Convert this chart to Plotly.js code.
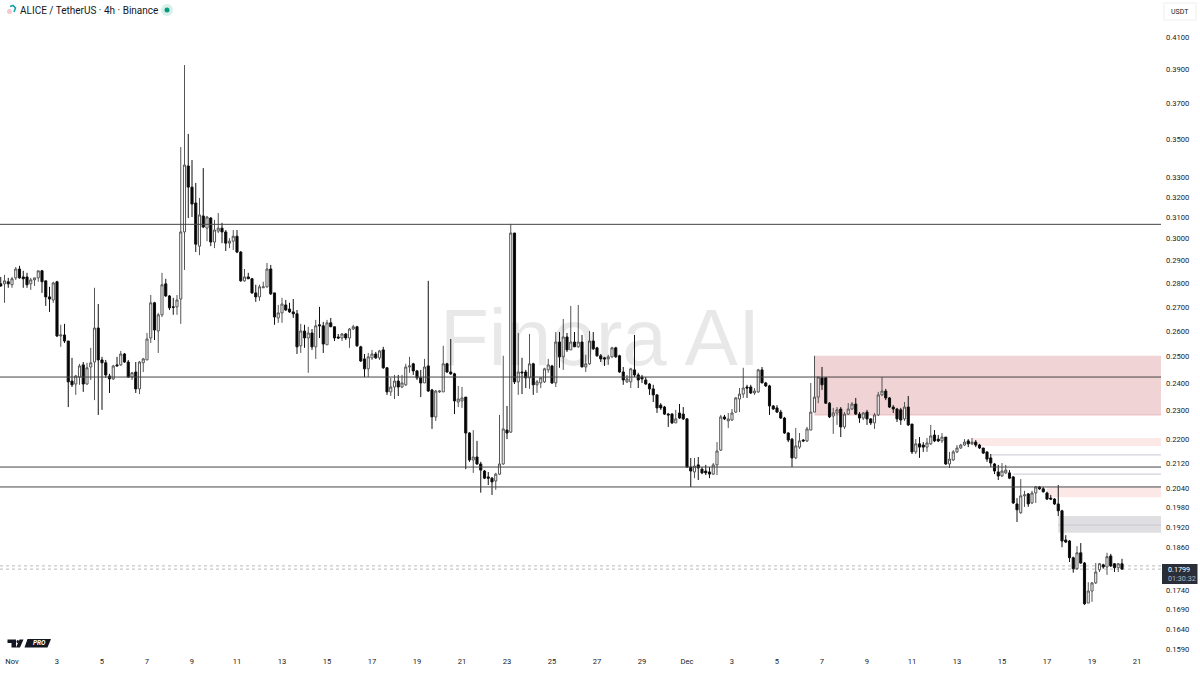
<!DOCTYPE html>
<html><head><meta charset="utf-8">
<script src="https://cdn.plot.ly/plotly-3.0.1.min.js"></script>
<style>html,body{margin:0;padding:0;background:#fff}#c{width:1200px;height:675px}</style>
</head><body><div id="c"></div>
<script>
const opens=[
.2798,.2798,.2807,.2794,.2824,.2863,.2828,.2828,.2798,.2815,
.2824,.2855,.2811,.2742,.2729,.2807,.2581,.2585,.2561,.2407,
.2396,.2422,.2468,.2396,.2460,.2479,.2613,.2487,.2476,.2426,
.2415,.2468,.2468,.2510,.2479,.2422,.2441,.2378,.2476,.2487,
.2573,.2717,.2601,.2667,.2798,.2746,.2700,.2700,.2733,.3032,
.3358,.3250,.3171,.2966,.3108,.3050,.3098,.2985,.3036,.3050,
.3032,.2980,.2989,.3012,.2939,.2811,.2828,.2820,.2759,.2742,
.2781,.2785,.2863,.2759,.2654,.2675,.2708,.2691,.2679,.2671,
.2542,.2601,.2573,.2593,.2538,.2626,.2622,.2546,.2634,.2618,
.2577,.2573,.2589,.2573,.2609,.2618,.2538,.2491,.2453,.2495,
.2510,.2495,.2526,.2457,.2367,.2385,.2407,.2385,.2393,.2460,
.2472,.2445,.2419,.2400,.2464,.2374,.2277,.2367,.2367,.2472,
.2441,.2434,.2330,.2334,.2348,.2221,.2130,.2140,.2117,.2094,
.2075,.2071,.2062,.2084,.2117,.2231,.2224,.3027,.2404,.2441,
.2441,.2419,.2472,.2393,.2400,.2404,.2449,.2464,.2400,.2557,
.2499,.2577,.2526,.2557,.2538,.2557,.2460,.2472,.2561,.2534,
.2503,.2495,.2491,.2499,.2534,.2503,.2441,.2404,.2404,.2449,
.2430,.2422,.2411,.2396,.2378,.2356,.2319,.2312,.2287,.2287,
.2256,.2291,.2287,.2270,.2107,.2091,.2114,.2100,.2094,.2091,
.2084,.2114,.2163,.2277,.2263,.2266,.2294,.2341,.2359,.2385,
.2385,.2363,.2367,.2449,.2400,.2389,.2316,.2309,.2294,.2273,
.2221,.2200,.2137,.2173,.2197,.2194,.2231,.2294,.2348,.2419,
.2419,.2326,.2280,.2291,.2305,.2242,.2287,.2305,.2323,.2287,
.2273,.2294,.2270,.2256,.2284,.2356,.2370,.2345,.2312,.2305,
.2302,.2270,.2312,.2252,.2157,.2184,.2180,.2173,.2184,.2214,
.2200,.2194,.2207,.2117,.2130,.2157,.2170,.2180,.2194,.2184,
.2190,.2180,.2170,.2157,.2137,.2117,.2091,.2078,.2088,.2088,
.2075,.1990,.1963,.2015,.2021,.1993,.2024,.2043,.2037,.2024,
.2008,.2005,.1990,.1969,.1882,.1879,.1831,.1800,.1845,.1816,
.1707,.1739,.1761,.1797,.1811,.1805,.1836,.1814,.1803,.1814];
const highs=[
.2828,.2837,.2824,.2828,.2872,.2877,.2855,.2846,.2824,.2824,
.2855,.2859,.2811,.2785,.2807,.2811,.2626,.2630,.2561,.2495,
.2430,.2472,.2479,.2476,.2534,.2781,.2712,.2499,.2487,.2434,
.2468,.2499,.2522,.2514,.2487,.2441,.2479,.2483,.2495,.2593,
.2750,.2721,.2675,.2846,.2820,.2750,.2738,.2750,.3458,.3926,
.3529,.3389,.3271,.3196,.3347,.3108,.3103,.3089,.3122,.3075,
.3041,.3003,.3041,.3041,.2944,.2863,.2846,.2824,.2794,.2794,
.2807,.2890,.2881,.2759,.2708,.2738,.2729,.2717,.2733,.2687,
.2630,.2626,.2618,.2609,.2646,.2700,.2638,.2646,.2654,.2618,
.2589,.2593,.2593,.2613,.2626,.2622,.2542,.2510,.2514,.2526,
.2518,.2526,.2538,.2460,.2419,.2430,.2430,.2430,.2472,.2499,
.2476,.2449,.2449,.2491,.2811,.2378,.2374,.2374,.2542,.2476,
.2569,.2438,.2389,.2385,.2348,.2224,.2231,.2194,.2124,.2097,
.2091,.2075,.2088,.2284,.2503,.2316,.3070,.3027,.2593,.2495,
.2449,.2589,.2476,.2411,.2419,.2457,.2491,.2468,.2597,.2597,
.2650,.2593,.2704,.2597,.2708,.2585,.2507,.2601,.2597,.2538,
.2510,.2499,.2507,.2538,.2538,.2507,.2460,.2430,.2457,.2585,
.2438,.2430,.2422,.2400,.2393,.2359,.2326,.2316,.2291,.2291,
.2302,.2323,.2312,.2273,.2137,.2137,.2140,.2107,.2114,.2107,
.2120,.2190,.2284,.2284,.2291,.2305,.2348,.2381,.2457,.2393,
.2393,.2381,.2453,.2460,.2404,.2393,.2319,.2319,.2302,.2277,
.2224,.2204,.2238,.2221,.2200,.2242,.2400,.2503,.2422,.2460,
.2422,.2330,.2309,.2312,.2312,.2294,.2326,.2330,.2345,.2294,
.2294,.2302,.2273,.2291,.2367,.2422,.2378,.2348,.2319,.2309,
.2309,.2330,.2352,.2252,.2200,.2207,.2190,.2204,.2249,.2231,
.2214,.2221,.2207,.2157,.2163,.2180,.2184,.2200,.2200,.2204,
.2197,.2184,.2170,.2157,.2150,.2120,.2114,.2120,.2114,.2097,
.2078,.2008,.2068,.2031,.2024,.2031,.2046,.2046,.2043,.2028,
.2018,.2008,.2049,.1972,.1896,.1882,.1834,.1864,.1873,.1819,
.1763,.1763,.1816,.1816,.1814,.1845,.1842,.1816,.1816,.1828];
const lows=[
.2785,.2717,.2781,.2781,.2815,.2820,.2781,.2781,.2772,.2789,
.2807,.2759,.2704,.2679,.2717,.2577,.2538,.2553,.2312,.2385,
.2356,.2393,.2367,.2393,.2411,.2337,.2284,.2302,.2419,.2363,
.2411,.2464,.2464,.2476,.2419,.2411,.2363,.2359,.2441,.2487,
.2553,.2565,.2514,.2658,.2742,.2687,.2667,.2667,.2630,.2859,
.3098,.3103,.2939,.2925,.3050,.2989,.2966,.2957,.3027,.2980,
.2944,.2957,.2948,.2934,.2807,.2807,.2820,.2755,.2721,.2725,
.2781,.2781,.2750,.2626,.2634,.2634,.2683,.2675,.2654,.2510,
.2514,.2534,.2438,.2526,.2491,.2573,.2514,.2546,.2618,.2561,
.2569,.2561,.2565,.2534,.2605,.2538,.2479,.2422,.2422,.2487,
.2491,.2487,.2453,.2356,.2352,.2341,.2352,.2381,.2389,.2438,
.2430,.2411,.2348,.2400,.2367,.2235,.2263,.2363,.2367,.2438,
.2430,.2287,.2312,.2309,.2100,.2124,.2088,.2114,.2025,.2068,
.2049,.2018,.2034,.2081,.2114,.2200,.2221,.2396,.2356,.2359,
.2381,.2378,.2356,.2363,.2381,.2400,.2438,.2396,.2385,.2457,
.2449,.2518,.2526,.2538,.2534,.2460,.2441,.2468,.2526,.2499,
.2479,.2464,.2468,.2495,.2495,.2438,.2393,.2400,.2381,.2422,
.2381,.2400,.2393,.2356,.2330,.2291,.2302,.2284,.2242,.2252,
.2256,.2270,.2266,.2104,.2043,.2071,.2065,.2084,.2081,.2071,
.2081,.2081,.2160,.2266,.2238,.2263,.2291,.2294,.2345,.2345,
.2359,.2356,.2363,.2400,.2385,.2284,.2302,.2291,.2270,.2218,
.2190,.2107,.2133,.2167,.2190,.2190,.2231,.2294,.2326,.2374,
.2323,.2273,.2218,.2249,.2207,.2235,.2284,.2302,.2284,.2256,
.2266,.2249,.2249,.2235,.2280,.2352,.2337,.2309,.2291,.2259,
.2249,.2263,.2245,.2150,.2150,.2137,.2157,.2157,.2180,.2190,
.2190,.2187,.2114,.2104,.2127,.2153,.2167,.2177,.2173,.2180,
.2173,.2167,.2150,.2124,.2107,.2084,.2065,.2075,.2084,.2068,
.1990,.1935,.1960,.1981,.1981,.1990,.1993,.2034,.2025,.2002,
.2002,.1987,.1953,.1861,.1873,.1819,.1789,.1797,.1814,.1702,
.1707,.1710,.1758,.1791,.1800,.1783,.1805,.1791,.1791,.1797];
const closes=[
.2789,.2811,.2798,.2820,.2863,.2824,.2820,.2794,.2815,.2824,
.2855,.2807,.2742,.2733,.2802,.2581,.2585,.2561,.2404,.2393,
.2426,.2464,.2396,.2457,.2476,.2613,.2487,.2476,.2430,.2415,
.2464,.2464,.2510,.2479,.2422,.2438,.2378,.2479,.2491,.2569,
.2717,.2605,.2667,.2794,.2746,.2696,.2698,.2729,.3032,.3363,
.3250,.3166,.2975,.3113,.3055,.3103,.2985,.3041,.3050,.3032,
.2980,.2989,.3012,.2939,.2811,.2828,.2820,.2759,.2742,.2785,
.2785,.2863,.2755,.2658,.2675,.2712,.2687,.2679,.2671,.2538,
.2601,.2573,.2593,.2538,.2622,.2622,.2549,.2634,.2618,.2573,
.2573,.2589,.2573,.2609,.2618,.2542,.2483,.2453,.2499,.2510,
.2495,.2522,.2457,.2367,.2385,.2407,.2385,.2400,.2460,.2464,
.2445,.2419,.2400,.2460,.2370,.2277,.2370,.2370,.2472,.2441,
.2434,.2334,.2341,.2345,.2221,.2130,.2140,.2117,.2097,.2071,
.2071,.2059,.2084,.2117,.2235,.2221,.3027,.2404,.2441,.2438,
.2419,.2472,.2393,.2404,.2419,.2453,.2468,.2400,.2557,.2499,
.2577,.2526,.2557,.2538,.2557,.2460,.2472,.2561,.2530,.2503,
.2491,.2491,.2499,.2534,.2499,.2441,.2411,.2415,.2453,.2430,
.2411,.2415,.2396,.2378,.2356,.2309,.2309,.2287,.2284,.2256,
.2270,.2273,.2270,.2107,.2094,.2110,.2104,.2088,.2088,.2084,
.2114,.2160,.2277,.2270,.2270,.2291,.2345,.2359,.2381,.2381,
.2363,.2370,.2449,.2400,.2389,.2316,.2305,.2294,.2273,.2221,
.2197,.2137,.2177,.2194,.2194,.2235,.2294,.2348,.2422,.2393,
.2326,.2277,.2291,.2302,.2242,.2287,.2305,.2323,.2287,.2273,
.2291,.2270,.2256,.2284,.2356,.2370,.2345,.2312,.2305,.2270,
.2266,.2312,.2249,.2157,.2184,.2173,.2173,.2187,.2211,.2194,
.2194,.2207,.2117,.2133,.2157,.2170,.2180,.2190,.2184,.2190,
.2180,.2170,.2153,.2133,.2120,.2094,.2078,.2094,.2097,.2071,
.1993,.1972,.2015,.2018,.1990,.2024,.2043,.2037,.2028,.2005,
.2005,.1990,.1969,.1879,.1876,.1831,.1800,.1845,.1816,.1705,
.1739,.1761,.1791,.1814,.1805,.1834,.1808,.1803,.1814,.1799];

const dayTicks=["2024-11-01","2024-11-03","2024-11-05","2024-11-07","2024-11-09","2024-11-11","2024-11-13","2024-11-15","2024-11-17","2024-11-19","2024-11-21","2024-11-23","2024-11-25","2024-11-27","2024-11-29","2024-12-01","2024-12-03","2024-12-05","2024-12-07","2024-12-09","2024-12-11","2024-12-13","2024-12-15","2024-12-17","2024-12-19","2024-12-21"];
const dayLabels=["Nov","3","5","7","9","11","13","15","17","19","21","23","25","27","29","Dec","3","5","7","9","11","13","15","17","19","21"];
const priceTicks=[.41,.39,.37,.35,.33,.32,.31,.30,.29,.28,.27,.26,.25,.24,.23,.22,.212,.204,.198,.192,.186,.174,.169,.164,.159];
const levels=[.3068,.2422,.2107,.2043];
const zoneStarts=["2024-12-06 16:00","2024-12-13 16:00","2024-12-17 00:00","2024-12-17 12:00"];
const zoneTops=[.2503,.2204,.2043,.1953];
const zoneBottoms=[.2284,.2177,.2011,.1903];
const thinStarts=["2024-12-14 12:00","2024-12-15 12:00","2024-12-17 12:00"];
const thinLevels=[.2147,.2084,.1926];
const lastPrices=[.1808,.1799];

const W=1200,H=675,ML=0,MR=39,MT=0,MB=20,PW=W-ML-MR,PH=H-MT-MB;
const start=Date.UTC(2024,9,31,12);
const times=opens.map((_,k)=>new Date(start+k*4*3600e3).toISOString().slice(0,16).replace('T',' '));
const xEnd="2024-12-22 01:36";
const px=x=>(x-ML)/PW, py=y=>1-(y-MT)/PH;
const pth=pts=>pts.map((p,i)=>(i?'L':'M')+px(p[0]).toFixed(5)+','+py(p[1]).toFixed(5)).join(' ')+' Z';
const shapes=[];
zoneStarts.forEach((s,i)=>{
  const gray=i===3, big=i===0;
  shapes.push({type:'rect',layer:'below',xref:'x',yref:'y',x0:s,x1:xEnd,y0:zoneBottoms[i],y1:zoneTops[i],
    fillcolor:gray?'#dfdfe1':(big?'#f0d3d5':'#fde8e8'),line:{width:0}});
});
shapes.push({type:'line',layer:'below',xref:'x',yref:'y',x0:zoneStarts[0],x1:xEnd,y0:zoneBottoms[0],y1:zoneBottoms[0],line:{color:'#eab9bd',width:1}});
thinStarts.forEach((s,i)=>shapes.push({type:'line',layer:'below',xref:'x',yref:'y',x0:s,x1:xEnd,y0:thinLevels[i],y1:thinLevels[i],line:{color:'#c9c5d2',width:1}}));
levels.forEach(v=>shapes.push({type:'line',layer:'above',xref:'paper',yref:'y',x0:0,x1:1,y0:v,y1:v,line:{color:'#444',width:1}}));
lastPrices.forEach(v=>shapes.push({type:'line',layer:'below',xref:'paper',yref:'y',x0:0,x1:1,y0:v,y1:v,line:{color:'#bbb',width:1,dash:'dot'}}));
// header marks
shapes.push({type:'circle',xref:'paper',yref:'paper',x0:px(161),x1:px(173),y0:py(16),y1:py(4),fillcolor:'#d9f0ea',line:{width:0}});
shapes.push({type:'circle',xref:'paper',yref:'paper',x0:px(164.5),x1:px(169.5),y0:py(12.5),y1:py(7.5),fillcolor:'#089981',line:{width:0}});
shapes.push({type:'circle',xref:'paper',yref:'paper',x0:px(7),x1:px(12),y0:py(14),y1:py(9),fillcolor:'#f7c6d0',line:{width:0}});
shapes.push({type:'path',xref:'paper',yref:'paper',path:'M'+px(10)+','+py(6.5)+' L'+px(13)+','+py(5.5)+' L'+px(15.5)+','+py(8)+' L'+px(14)+','+py(12),line:{color:'#17a0a8',width:1.6}});
// logo marks
shapes.push({type:'path',xref:'paper',yref:'paper',fillcolor:'#131722',line:{width:0},path:pth([[7.5,639.5],[16,639.5],[16,647.5],[11.5,647.5],[11.5,643],[7.5,643]])});
shapes.push({type:'circle',xref:'paper',yref:'paper',fillcolor:'#131722',line:{width:0},x0:px(16.5),x1:px(19),y0:py(643),y1:py(640)});
shapes.push({type:'path',xref:'paper',yref:'paper',fillcolor:'#131722',line:{width:0},path:pth([[19.5,639.5],[23.5,639.5],[20,647.5],[16,647.5]])});
shapes.push({type:'path',xref:'paper',yref:'paper',fillcolor:'#131722',line:{width:0},path:pth([[27.5,639],[51,639],[47.5,647.5],[24.5,647.5]])});
// USDT button and last price tag
shapes.push({type:'rect',xref:'paper',yref:'paper',x0:px(1164),x1:px(1196),y0:py(20),y1:py(3),fillcolor:'#fff',line:{color:'#eeeeee',width:1}});
shapes.push({type:'rect',xref:'paper',yref:'paper',x0:px(1162),x1:px(1197.5),y0:py(584),y1:py(564),fillcolor:'#2a2e39',line:{width:0}});

const note=(x,y,text,size,color,extra)=>Object.assign({xref:'paper',yref:'paper',x:px(x),y:py(y),text,showarrow:false,xanchor:'left',yanchor:'middle',
  font:{family:'Roboto, sans-serif',size,color}},extra||{});
const annotations=[
  note(600,338,'Finora AI',80,'rgba(0,0,0,0.09)',{xanchor:'center',font:{family:'Liberation Sans, sans-serif',size:80,color:'rgba(0,0,0,0.09)'}}),
  note(17.5,10.5,'ALICE / TetherUS · 4h · Binance',10,'#131722'),
  note(1180,11.5,'USDT',7,'#131722',{xanchor:'center'}),
  note(1165.5,569,'0.1799',7.2,'#ffffff'),
  note(1165.5,578.5,'01:30:32',7.2,'#b2b5be'),
  note(31,643.3,'<b><i>PRO</i></b>',6.5,'#ffffff')
];

const trace={type:'candlestick',x:times,open:opens,high:highs,low:lows,close:closes,whiskerwidth:0,
  increasing:{line:{color:'#555',width:1},fillcolor:'#ffffff'},
  decreasing:{line:{color:'#111',width:1},fillcolor:'#000000'},hoverinfo:'skip',showlegend:false};
const yBottom=.1575,yTop=.4342;
Plotly.newPlot('c',[trace],{
  width:W,height:H,margin:{l:ML,r:MR,t:MT,b:MB,pad:0},paper_bgcolor:'#fff',plot_bgcolor:'#fff',showlegend:false,boxgap:0.2,
  xaxis:{type:'date',range:["2024-10-31 11:12",xEnd],tickmode:'array',tickvals:dayTicks,ticktext:dayLabels,showgrid:false,zeroline:false,showline:false,ticks:'',
    rangeslider:{visible:false},tickangle:0,tickfont:{family:'Roboto, sans-serif',size:7.6,color:'#222'},automargin:false},
  yaxis:{type:'log',side:'right',range:[Math.log10(yBottom),Math.log10(yTop)],tickmode:'array',tickvals:priceTicks,ticktext:priceTicks.map(v=>v.toFixed(4)),ticklabelstandoff:4,
    showgrid:false,zeroline:false,showline:false,ticks:'',tickfont:{family:'Roboto, sans-serif',size:7.6,color:'#222'},automargin:false},
  shapes,annotations
},{displayModeBar:false,staticPlot:true});
</script></body></html>
